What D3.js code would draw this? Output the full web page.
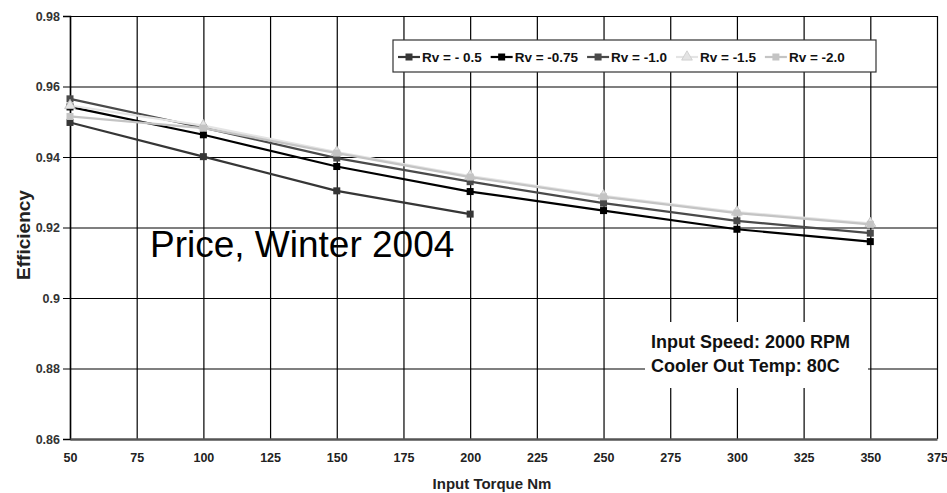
<!DOCTYPE html>
<html>
<head>
<meta charset="utf-8">
<script src="https://cdn.jsdelivr.net/npm/d3@7"></script>
<style>
  body { margin: 0; background: #fff; }
  svg { display: block; font-family: "Liberation Sans", Arial, sans-serif; }
</style>
</head>
<body>
<div class="chart"></div>
<script>
// data
const torque = [50, 100, 150, 200, 250, 300, 350];
const rvNeg05 = [0.9498, 0.9401, 0.9304, 0.9238];
const rvNeg075 = [0.9542, 0.9463, 0.9373, 0.9302, 0.9248, 0.9195, 0.9160];
const rvNeg10 = [0.9565, 0.9483, 0.9397, 0.9330, 0.9269, 0.9219, 0.9184];
const rvNeg15 = [0.9546, 0.9489, 0.9414, 0.9346, 0.9290, 0.9244, 0.9212];
const rvNeg20 = [0.9515, 0.9482, 0.9411, 0.9343, 0.9287, 0.9241, 0.9209];
const seriesNames = ["Rv = - 0.5", "Rv = -0.75", "Rv = -1.0", "Rv = -1.5", "Rv = -2.0"];
const xTicks = [50, 75, 100, 125, 150, 175, 200, 225, 250, 275, 300, 325, 350, 375];
const yTicks = [0.86, 0.88, 0.9, 0.92, 0.94, 0.96, 0.98];
const yTickLabels = ["0.86", "0.88", "0.9", "0.92", "0.94", "0.96", "0.98"];
const noteLines = ["Input Speed: 2000 RPM", "Cooler Out Temp: 80C"];

const w = 947, h = 493;
const plotLeft = 70, plotRight = 937, plotTop = 16, plotBottom = 439;

const series = [rvNeg05, rvNeg075, rvNeg10, rvNeg15, rvNeg20].map((vals, i) => ({
    name: seriesNames[i],
    values: vals.map((v, j) => ({ x: torque[j], y: v }))
}));
const colors = ["#363636", "#000000", "#4a4a4a", "#e4e4e4", "#c4c4c4"];
const shapes = ["square", "square", "square", "triangle", "square"];

const svg = d3.select('.chart')
    .append('svg')
    .attr('width', w)
    .attr('height', h);

const xScale = d3.scaleLinear().domain([50, 375]).range([plotLeft, plotRight]);
const yScale = d3.scaleLinear().domain([0.86, 0.98]).range([plotBottom, plotTop]);

// grid
svg.append('g')
    .attr('transform', `translate(0, ${plotBottom})`)
    .call(d3.axisBottom(xScale).tickValues(xTicks).tickSize(-(plotBottom - plotTop)).tickFormat(''))
    .call(g => g.select('.domain').remove())
    .call(g => g.selectAll('line').attr('stroke', '#000').attr('stroke-width', 1.2));

svg.append('g')
    .attr('transform', `translate(${plotLeft}, 0)`)
    .call(d3.axisLeft(yScale).tickValues(yTicks).tickSize(-(plotRight - plotLeft)).tickFormat(''))
    .call(g => g.select('.domain').remove())
    .call(g => g.selectAll('line').attr('stroke', '#000').attr('stroke-width', 1.2));

// y axis
svg.append('g')
    .attr('transform', `translate(${plotLeft}, 0)`)
    .call(d3.axisLeft(yScale).tickValues(yTicks).tickSize(7).tickPadding(3)
        .tickFormat((d, i) => yTickLabels[i]))
    .call(g => g.select('.domain').attr('stroke', '#000').attr('stroke-width', 1.5))
    .call(g => g.selectAll('line').attr('stroke', '#000'))
    .call(g => g.selectAll('text').attr('fill', '#333').style('font-size', '12.5px').style('font-weight', 'bold'));

// x axis
svg.append('g')
    .attr('transform', `translate(0, ${plotBottom})`)
    .call(d3.axisBottom(xScale).tickValues(xTicks).tickSize(0).tickPadding(14))
    .call(g => g.select('.domain').attr('stroke', '#555').attr('stroke-width', 2.5))
    .call(g => g.selectAll('text').attr('fill', '#222').style('font-size', '12.5px').style('font-weight', 'bold'));

// annotation box
const note = svg.append('g');
note.append('rect')
    .attr('x', 645).attr('y', 322)
    .attr('width', 223).attr('height', 66)
    .attr('fill', '#fff');
note.selectAll('text')
    .data(noteLines)
    .enter().append('text')
    .attr('x', 651)
    .attr('y', (d, i) => 348 + i * 24)
    .style('font-size', '18px')
    .style('font-weight', 'bold')
    .attr('fill', '#111')
    .text(d => d);

// lines
const line = d3.line().x(d => xScale(d.x)).y(d => yScale(d.y));
const tri = d3.symbol().type(d3.symbolTriangle).size(50);

series.forEach((s, i) => {
    const g = svg.append('g');
    g.append('path')
        .datum(s.values)
        .attr('d', line)
        .attr('fill', 'none')
        .attr('stroke', colors[i])
        .attr('stroke-width', 2.2);
    if (shapes[i] == 'square') {
        g.selectAll('rect')
            .data(s.values)
            .enter().append('rect')
            .attr('x', d => xScale(d.x) - 3.5)
            .attr('y', d => yScale(d.y) - 3.5)
            .attr('width', 7).attr('height', 7)
            .attr('fill', colors[i]);
    } else {
        g.selectAll('path.pt')
            .data(s.values)
            .enter().append('path')
            .attr('class', 'pt')
            .attr('transform', d => `translate(${xScale(d.x)}, ${yScale(d.y)})`)
            .attr('d', tri)
            .attr('fill', colors[i])
            .attr('stroke', '#bbb')
            .attr('stroke-width', 0.8);
    }
});

// legend
const legend = svg.append('g');
legend.append('rect')
    .attr('x', 393).attr('y', 40)
    .attr('width', 483).attr('height', 32)
    .attr('fill', '#fff')
    .attr('stroke', '#333')
    .attr('stroke-width', 1.2);

let lx = 398;
series.forEach((s, i) => {
    const item = legend.append('g');
    item.append('line')
        .attr('x1', lx).attr('x2', lx + 22)
        .attr('y1', 57).attr('y2', 57)
        .attr('stroke', colors[i]).attr('stroke-width', 2.2);
    if (shapes[i] == 'square') {
        item.append('rect')
            .attr('x', lx + 7.5).attr('y', 53.5)
            .attr('width', 7).attr('height', 7)
            .attr('fill', colors[i]);
    } else {
        item.append('path')
            .attr('transform', `translate(${lx + 11}, 57)`)
            .attr('d', tri)
            .attr('fill', colors[i]).attr('stroke', '#ccc').attr('stroke-width', 0.8);
    }
    const t = item.append('text')
        .attr('x', lx + 24)
        .attr('y', 62)
        .style('font-size', '13.5px')
        .style('font-weight', 'bold')
        .attr('fill', '#111')
        .text(s.name);
    lx += 24 + t.node().getComputedTextLength() + 9;
});

// watermark text
svg.append('text')
    .attr('x', 150)
    .attr('y', 257)
    .style('font-size', '37px')
    .attr('fill', '#000')
    .text('Price, Winter 2004');

// axis titles
svg.append('text')
    .attr('transform', 'rotate(-90)')
    .attr('x', -235)
    .attr('y', 30)
    .style('font-size', '19px')
    .style('font-weight', 'bold')
    .style('text-anchor', 'middle')
    .attr('fill', '#222')
    .text('Efficiency');

svg.append('text')
    .attr('x', 492)
    .attr('y', 489)
    .style('font-size', '15px')
    .style('font-weight', 'bold')
    .style('text-anchor', 'middle')
    .attr('fill', '#222')
    .text('Input Torque Nm');
</script>
</body>
</html>
